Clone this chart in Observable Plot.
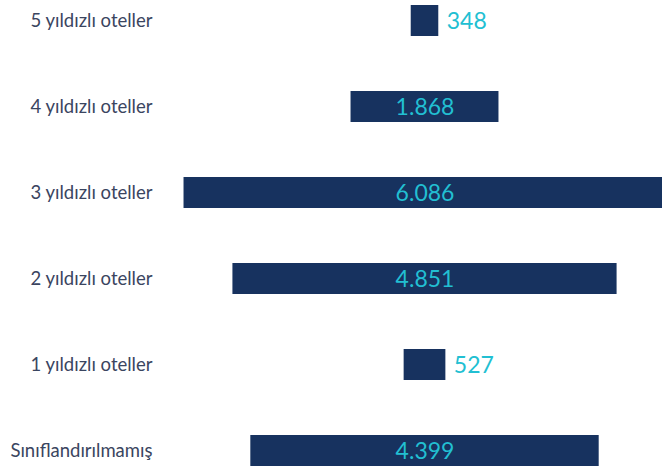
<!DOCTYPE html>
<html>
<head>
<meta charset="utf-8">
<script src="https://cdn.jsdelivr.net/npm/d3@7"></script>
<script src="https://cdn.jsdelivr.net/npm/@observablehq/plot@0.6"></script>
<style>
  html, body { margin: 0; padding: 0; background: #ffffff; }
  #chart svg { display: block; }
</style>
</head>
<body>
<div id="chart"></div>
<script>
const categories = ["5 yıldızlı oteller", "4 yıldızlı oteller", "3 yıldızlı oteller", "2 yıldızlı oteller", "1 yıldızlı oteller", "Sınıflandırılmamış"];
const values = [348, 1868, 6086, 4851, 527, 4399];
const valueLabels = ["348", "1.868", "6.086", "4.851", "527", "4.399"];

const data = categories.map((c, i) => ({category: c, value: values[i], label: valueLabels[i]}));
const barColor = "#17325f";
const labelColor = "#22bfd2";

const chart = Plot.plot({
  width: 662,
  height: 466,
  marginLeft: 160,
  marginRight: 0,
  marginTop: 0,
  marginBottom: 0,
  style: {fontFamily: "Lato, sans-serif", background: "#ffffff"},
  x: {domain: [-3340, 2999], axis: null},
  y: {domain: categories, range: [0, 471], paddingInner: 0.64, paddingOuter: 0.058, label: null},
  marks: [
    Plot.axisY({tickSize: 0, tickPadding: 8, fontSize: 18.5, fontWeight: 400, color: "#3a4560", label: null}),
    Plot.barX(data, {y: "category", x1: d => -d.value / 2, x2: d => d.value / 2, fill: barColor}),
    Plot.text(data.filter(d => d.value >= 1000), {y: "category", x: 0, text: "label", fill: labelColor, fontSize: 23, fontWeight: 400, textAnchor: "middle", dy: 1}),
    Plot.text(data.filter(d => d.value < 1000), {y: "category", x: d => d.value / 2, text: "label", fill: labelColor, fontSize: 23, fontWeight: 400, textAnchor: "start", dx: 8, dy: 1})
  ]
});
document.getElementById("chart").appendChild(chart);
</script>
</body>
</html>
